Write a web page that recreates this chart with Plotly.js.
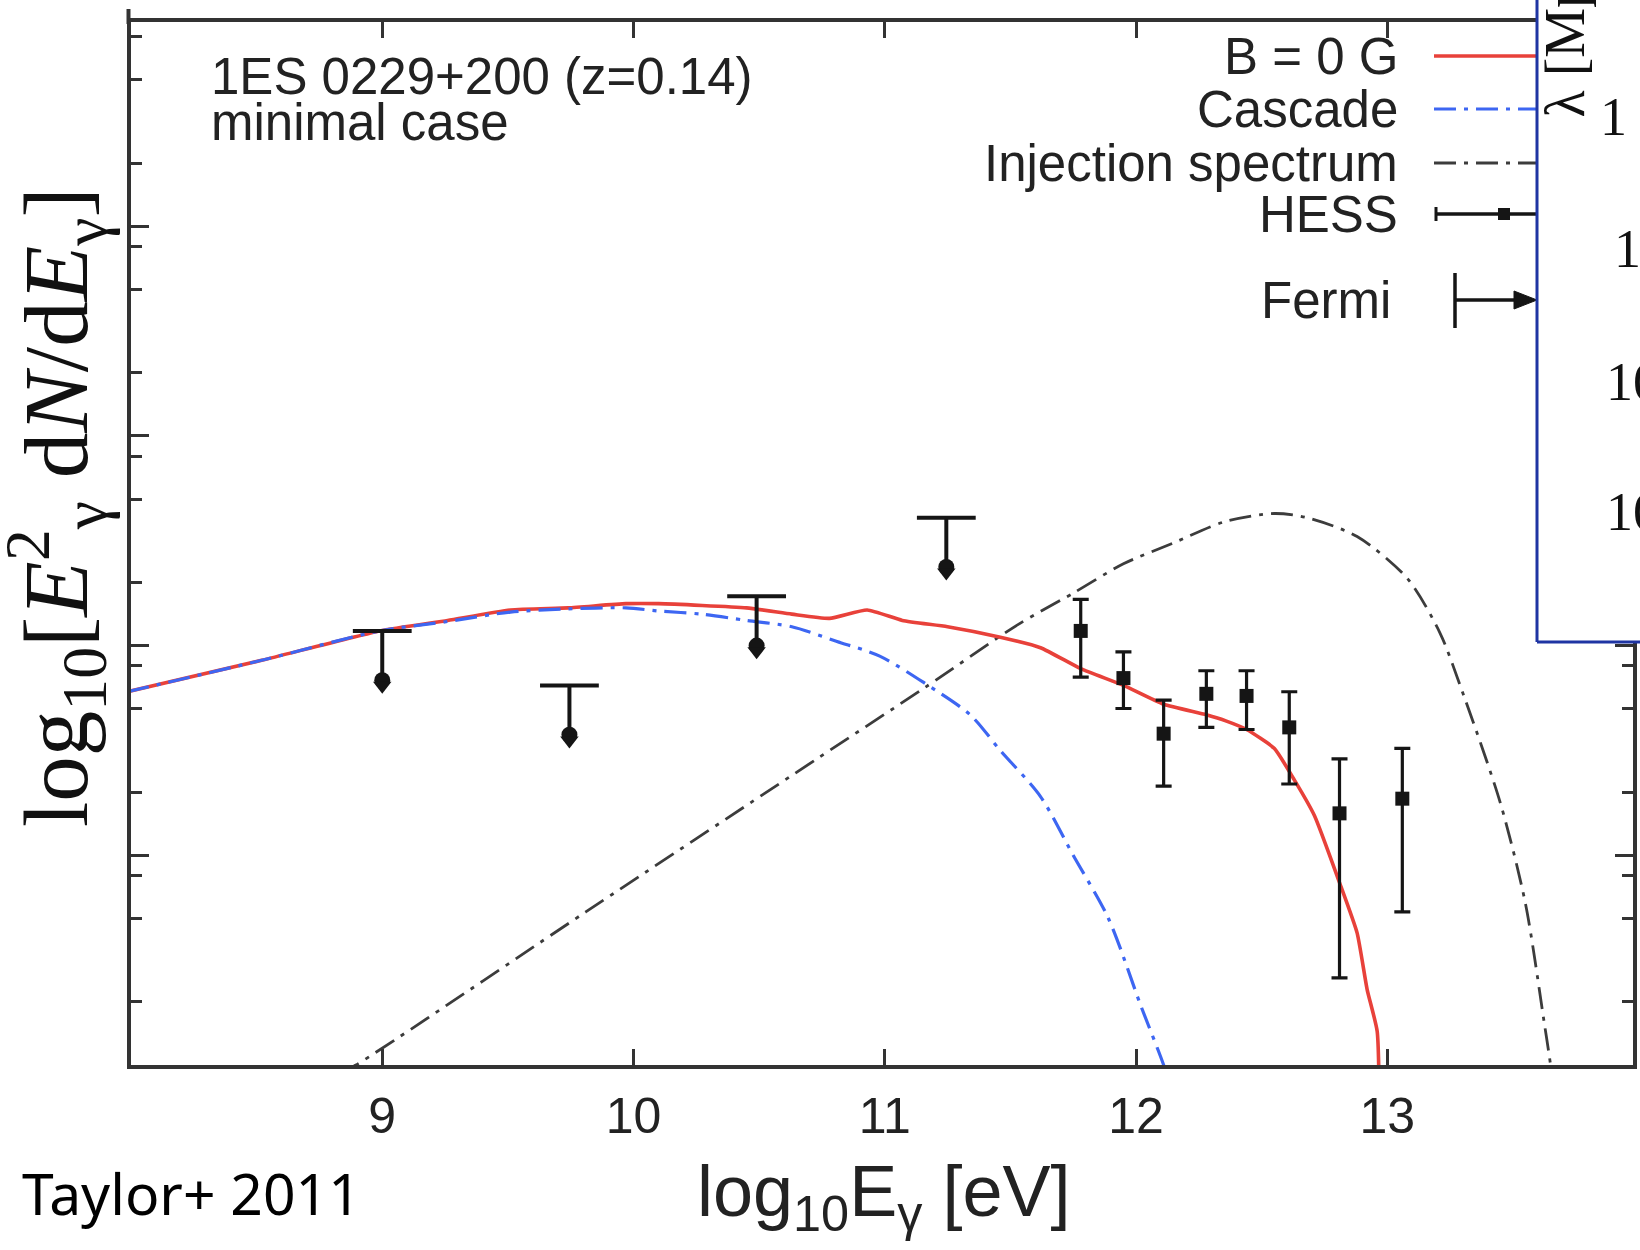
<!DOCTYPE html>
<html>
<head>
<meta charset="utf-8">
<script src="https://cdn.plot.ly/plotly-3.0.1.min.js"></script>
<style>
  html, body { margin: 0; padding: 0; background: #ffffff; }
  #plot { width: 1640px; height: 1250px; }
</style>
</head>
<body>
<div id="plot"></div>
<script>
// Model curves: x = log10(E / eV), y = log10(E^2 dN/dE)
const b0E = [7.985, 8.52, 8.99, 9.26, 9.51, 9.74, 9.97, 10.10, 10.45, 10.63, 10.78, 10.93, 11.07, 11.25, 11.46, 11.62, 11.78, 11.95, 12.11, 12.28, 12.36, 12.44, 12.55, 12.63, 12.71, 12.81, 12.88, 12.92, 12.96, 12.97];
const b0F = [-11.22, -11.07, -10.93, -10.88, -10.83, -10.82, -10.80, -10.80, -10.82, -10.85, -10.87, -10.83, -10.88, -10.91, -10.96, -11.01, -11.11, -11.19, -11.28, -11.33, -11.36, -11.40, -11.49, -11.64, -11.81, -12.13, -12.37, -12.64, -12.84, -13.5];

const cascadeE = [7.985, 8.52, 8.99, 9.26, 9.51, 9.74, 9.97, 10.10, 10.27, 10.45, 10.63, 10.81, 10.98, 11.16, 11.34, 11.46, 11.62, 11.75, 11.89, 12.02, 12.11, 12.14];
const cascadeF = [-11.22, -11.07, -10.93, -10.885, -10.84, -10.825, -10.82, -10.835, -10.85, -10.88, -10.91, -10.98, -11.05, -11.18, -11.33, -11.50, -11.72, -12.00, -12.30, -12.72, -13.0, -13.12];

const injE = [8.83, 8.895, 9.81, 10.73, 11.16, 11.53, 11.75, 11.95, 12.15, 12.35, 12.55, 12.68, 12.88, 13.08, 13.21, 13.29, 13.45, 13.55, 13.625, 13.65, 13.66];
const injF = [-13.04, -13.0, -12.27, -11.54, -11.20, -10.90, -10.75, -10.61, -10.51, -10.41, -10.37, -10.39, -10.48, -10.68, -10.94, -11.19, -11.75, -12.23, -12.80, -13.0, -13.11];

// HESS spectral points with upper / lower ends of the error bars
const hessE  = [11.78, 11.95, 12.11, 12.28, 12.44, 12.61, 12.81, 13.06];
const hessF  = [-10.93, -11.155, -11.42, -11.23, -11.24, -11.39, -11.80, -11.73];
const hessHi = [-10.78, -11.03, -11.26, -11.12, -11.12, -11.22, -11.54, -11.49];
const hessLo = [-11.15, -11.30, -11.67, -11.39, -11.40, -11.66, -12.585, -12.27];

// Fermi upper limits
const fermiE  = [9.0, 9.745, 10.49, 11.245];
const fermiUL = [-10.93, -11.19, -10.765, -10.39];

const xTickVals = [9, 10, 11, 12, 13];
const xTickText = ['9', '10', '11', '12', '13'];

// labels of the neighbouring panel on the right
const sideAxisTitle = 'λ [Mpc]';
const sideTickText = ['1', '10', '10', '10'];

// ---- geometry helpers (pixel -> paper) ----
const W = 1640, H = 1250;
const M = { l: 131, r: 7, t: 22, b: 185 };
const PW = W - M.l - M.r, PH = H - M.t - M.b;
const px = x => (x - M.l) / PW;
const py = y => (H - M.b - y) / PH;

// y ticks: decades, with extra marks at 0.2, 0.5 and 0.8 of each decade
const yMajor = [-13, -12, -11, -10, -9];
const yMinor = [];
[-12, -11, -10, -9, -8].forEach(n => {
  [0.2, 0.5, 0.8].forEach(f => yMinor.push(n + Math.log10(f)));
});

// Fermi arrows: shaft, rounded head and tip below each limit
const shaftX = [], shaftY = [], blobY = [], tipY = [];
fermiE.forEach((e, i) => {
  shaftX.push(e, e, null);
  shaftY.push(fermiUL[i], fermiUL[i] - 0.23, null);
  blobY.push(fermiUL[i] - 0.235);
  tipY.push(fermiUL[i] - 0.262);
});

const ink = '#151515';
const axisInk = '#333333';
const red = '#e8413a', blue = '#3d66f2', grey = '#3c3c3c';
const dashDot = '22px,8px,4px,8px';

const traces = [
  { x: injE, y: injF, mode: 'lines', name: 'Injection spectrum',
    line: { color: grey, width: 2.8, dash: dashDot, shape: 'spline', smoothing: 0.8 }, hoverinfo: 'skip' },
  { x: b0E, y: b0F, mode: 'lines', name: 'B = 0 G',
    line: { color: red, width: 3.6, shape: 'spline', smoothing: 0.5 }, hoverinfo: 'skip' },
  { x: cascadeE, y: cascadeF, mode: 'lines', name: 'Cascade',
    line: { color: blue, width: 3.2, dash: dashDot, shape: 'spline', smoothing: 0.8 }, hoverinfo: 'skip' },
  { x: hessE, y: hessF, mode: 'markers', name: 'HESS',
    marker: { symbol: 'square', size: 14, color: ink },
    error_y: { type: 'data', symmetric: false,
      array: hessHi.map((v, i) => v - hessF[i]),
      arrayminus: hessF.map((v, i) => v - hessLo[i]),
      color: ink, thickness: 3.2, width: 8 }, hoverinfo: 'skip' },
  { x: shaftX, y: shaftY, mode: 'lines', name: 'Fermi shaft',
    line: { color: ink, width: 4 }, hoverinfo: 'skip' },
  { x: fermiE, y: fermiUL, mode: 'markers', name: 'Fermi',
    marker: { symbol: 'line-ew', size: 42, line: { color: ink, width: 4 } }, hoverinfo: 'skip' },
  { x: fermiE, y: blobY, mode: 'markers', name: 'Fermi head',
    marker: { symbol: 'circle', size: 16, color: ink }, hoverinfo: 'skip' },
  { x: fermiE, y: tipY, mode: 'markers', name: 'Fermi tip',
    marker: { symbol: 'triangle-down', size: 16, color: ink }, hoverinfo: 'skip' }
];

const sansText = (txt, x, y, anchor, size) => ({
  text: txt, xref: 'paper', yref: 'paper', x: px(x), y: py(y),
  xanchor: anchor, yanchor: 'middle', showarrow: false,
  font: { family: 'Liberation Sans, Arial, sans-serif', size: size, color: '#222222' }
});

const annotations = [
  sansText('1ES 0229+200 (z=0.14)', 209, 76, 'left', 51),
  sansText('minimal case', 209, 122, 'left', 51),
  sansText('B = 0 G', 1400, 56, 'right', 51),
  sansText('Cascade', 1400, 109, 'right', 51),
  sansText('Injection spectrum', 1400, 163, 'right', 51),
  sansText('HESS', 1400, 214, 'right', 51),
  sansText('Fermi', 1393, 300, 'right', 51),
  sansText('log<sub>10</sub>E<sub>γ</sub> [eV]', 883, 1196, 'center', 72),
  { text: 'log<sub>10</sub>[<i>E</i><sup>2</sup><sub>γ</sub> d<i>N</i>/d<i>E</i><sub>γ</sub>]',
    xref: 'paper', yref: 'paper', x: px(56), y: py(507), xanchor: 'center', yanchor: 'middle',
    textangle: -90, showarrow: false,
    font: { family: 'Liberation Serif, Times New Roman, serif', size: 91, color: '#111111' } },
  { text: 'Taylor+ 2011', xref: 'paper', yref: 'paper', x: px(20), y: py(1193),
    xanchor: 'left', yanchor: 'middle', showarrow: false,
    font: { family: 'Noto Sans, sans-serif', size: 57, color: '#000000' } },
  // neighbouring panel
  { text: sideAxisTitle, xref: 'paper', yref: 'paper', x: px(1565), y: py(120),
    xanchor: 'center', yanchor: 'bottom', textangle: -90, showarrow: false,
    font: { family: 'Liberation Serif, Times New Roman, serif', size: 56, color: '#111111' } }
];
const sideTickY = [117, 249, 382, 512];
const sideTickX = [1598, 1612, 1604, 1604];
sideTickText.forEach((t, i) => annotations.push({
  text: t, xref: 'paper', yref: 'paper', x: px(sideTickX[i]), y: py(sideTickY[i]),
  xanchor: 'left', yanchor: 'middle', showarrow: false,
  font: { family: 'Liberation Serif, Times New Roman, serif', size: 54, color: '#111111' } }));

const seg = (x0, y0, x1, y1, color, width, dash) => ({
  type: 'line', xref: 'paper', yref: 'paper', layer: 'above',
  x0: px(x0), y0: py(y0), x1: px(x1), y1: py(y1),
  line: { color: color, width: width, dash: dash || 'solid' } });

const shapes = [
  // legend samples
  seg(1434, 56, 1570, 56, red, 3.6),
  seg(1434, 109, 1570, 109, blue, 3.2, dashDot),
  seg(1434, 163, 1570, 163, grey, 2.8, dashDot),
  seg(1435, 214, 1570, 214, ink, 3.5),
  seg(1436, 207, 1436, 221, ink, 3),
  { type: 'rect', xref: 'paper', yref: 'paper', layer: 'above',
    x0: px(1498), x1: px(1510), y0: py(220), y1: py(208), fillcolor: ink, line: { width: 0 } },
  seg(1455, 273, 1455, 328, ink, 3.5),
  seg(1455, 300, 1522, 300, ink, 3.5),
  { type: 'path', xref: 'paper', yref: 'paper', layer: 'above',
    path: `M ${px(1514)} ${py(291)} L ${px(1537)} ${py(300)} L ${px(1514)} ${py(309)} Z`,
    fillcolor: ink, line: { color: ink, width: 1 } },
  // left axis runs slightly past the top frame line
  seg(128.5, 9, 128.5, 24, axisInk, 4),
  // neighbouring panel covering the top-right corner
  { type: 'rect', xref: 'paper', yref: 'paper', layer: 'above',
    x0: px(1537), x1: px(1660), y0: py(642), y1: py(-20), fillcolor: '#ffffff', line: { width: 0 } },
  seg(1537, -10, 1537, 642, '#1f35a3', 3),
  seg(1537, 642, 1660, 642, '#1f35a3', 3)
];

const layout = {
  width: W, height: H,
  margin: M,
  paper_bgcolor: '#ffffff', plot_bgcolor: '#ffffff',
  showlegend: false,
  xaxis: {
    range: [8, 8 + PW / 251.25], tickmode: 'array', tickvals: xTickVals, ticktext: xTickText,
    ticks: 'inside', ticklen: 16, tickwidth: 3, tickcolor: axisInk,
    showline: true, linewidth: 4, linecolor: axisInk, mirror: 'ticks',
    showgrid: false, zeroline: false, ticklabelstandoff: 4,
    tickfont: { family: 'Liberation Sans, Arial, sans-serif', size: 50, color: '#222222' }
  },
  yaxis: {
    range: [-13, -13 + PH / 209.7], tickmode: 'array', tickvals: yMajor,
    ticks: 'inside', ticklen: 18, tickwidth: 3, tickcolor: axisInk,
    minor: { tickmode: 'array', tickvals: yMinor, ticks: 'inside', ticklen: 11, tickwidth: 3, tickcolor: axisInk },
    showticklabels: false,
    showline: true, linewidth: 4, linecolor: axisInk, mirror: 'ticks',
    showgrid: false, zeroline: false
  },
  annotations: annotations,
  shapes: shapes
};

Plotly.newPlot('plot', traces, layout, { displayModeBar: false, staticPlot: true });
</script>
</body>
</html>
